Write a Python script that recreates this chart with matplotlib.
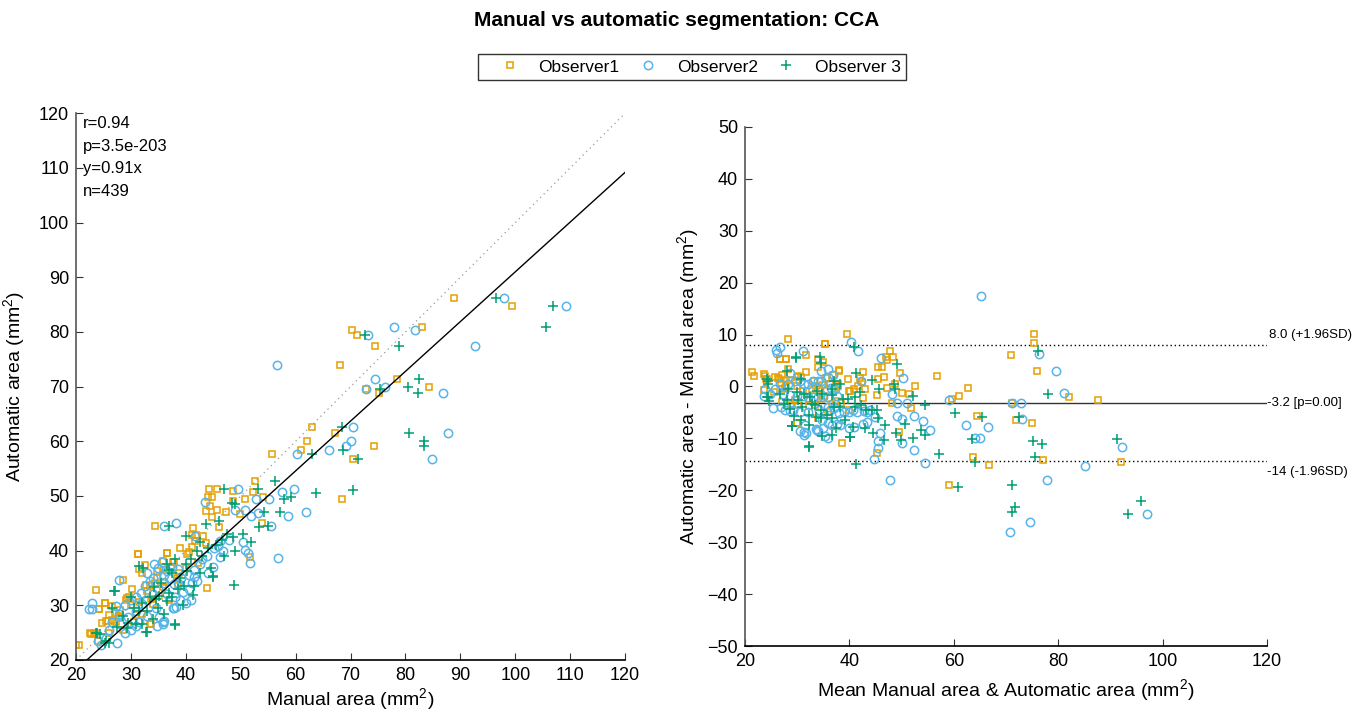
import numpy as np
import matplotlib
matplotlib.use("Agg")
import matplotlib.pyplot as plt

plt.rcParams['font.family'] = ['Liberation Sans', 'DejaVu Sans']
plt.rcParams['mathtext.fontset'] = 'custom'
plt.rcParams['mathtext.rm'] = 'Liberation Sans'

# ---------------- data (manual area, automatic area) ----------------
obs1_manual = [88.9, 99.4, 70.2, 71.2, 83.0, 74.5, 68.0, 78.4, 72.8, 75.2, 84.2, 62.9, 67.2, 62.0, 61.0,
               74.3, 70.4, 55.7, 52.6, 68.5, 44.3, 45.6, 48.5, 43.6, 44.7, 45.6, 47.3, 44.7, 48.6, 50.8,
               52.2, 54.0, 34.4, 41.3, 46.1, 49.8, 53.9, 51.7, 43.9, 31.2, 36.5, 23.6, 28.6, 25.3, 24.2,
               26.6, 33.5, 22.5, 23.4, 20.6, 20.0, 24.8, 25.5, 24.0,
               41.9, 43.2, 31.2, 32.6, 31.4, 32.1, 37.9, 37.3, 25.3, 24.1, 25.8, 26.6, 27.3, 27.9, 22.7,
               23.3, 33.6, 29.1, 29.7, 30.0, 33.0, 33.6, 35.2, 35.8, 40.0, 40.6, 41.2, 42.3, 40.3, 38.3,
               34.4, 36.1, 33.5, 27.3, 27.9, 30.9, 31.5, 34.1, 29.2, 36.5, 35.8, 37.6, 34.7, 41.1, 41.7,
               43.7, 44.1, 44.4, 38.5, 37.0, 32.0, 30.5, 28.5, 26.0, 36.0, 39.0, 38.8, 32.8, 34.8, 30.2,
               28.0, 26.0]
obs1_auto = [86.3, 84.8, 80.4, 79.5, 81.0, 77.4, 74.0, 71.4, 69.6, 68.8, 70.0, 62.6, 61.6, 60.1, 58.5,
             59.1, 56.8, 57.7, 52.7, 49.5, 51.2, 51.3, 51.0, 47.3, 49.8, 47.5, 47.1, 46.1, 49.0, 49.5,
             50.7, 49.8, 44.6, 44.1, 44.4, 46.7, 45.1, 38.8, 33.1, 39.4, 39.6, 32.8, 34.6, 30.5, 29.4,
             29.9, 26.5, 24.9, 24.9, 22.7, 22.7, 26.7, 27.2, 23.4,
             42.8, 42.7, 39.3, 37.3, 36.7, 35.9, 37.9, 37.1, 30.5, 29.3, 27.2, 27.3, 26.9, 27.8, 24.8,
             24.7, 26.5, 31.0, 31.6, 30.1, 32.6, 31.1, 31.7, 33.3, 36.8, 39.8, 40.7, 37.7, 39.4, 35.0,
             34.0, 34.3, 33.6, 28.6, 27.6, 28.2, 30.6, 30.3, 31.3, 39.5, 38.1, 38.0, 36.3, 42.8, 41.8,
             41.4, 49.8, 48.2, 33.5, 31.0, 28.5, 27.0, 25.5, 25.0, 36.5, 40.5, 36.0, 33.8, 35.0, 33.0,
             29.2, 28.2]

obs2_manual = [98.0, 109.3, 78.0, 81.7, 73.2, 92.7, 56.6, 74.5, 76.3, 72.8, 86.8, 87.8, 70.4, 70.0, 69.1,
               66.0, 60.3, 84.9, 56.8, 61.9, 59.7, 57.5, 58.6, 55.5, 49.5, 48.9, 50.7, 51.9, 53.1, 52.7,
               55.1, 43.4, 36.1, 38.2, 50.4, 50.7, 51.4, 51.7, 47.8, 46.8, 46.2, 44.9, 43.9, 41.6, 27.8,
               22.9, 22.4, 22.9, 27.3, 27.4, 24.6, 26.0, 28.9, 30.9, 34.8, 35.9, 37.7, 38.2, 31.8,
               34.2, 35.7, 35.0, 36.5, 37.9, 35.8, 36.1, 35.2, 41.2, 41.5, 40.6, 41.5, 45.2, 45.8, 46.3,
               37.9, 39.1, 38.5, 32.1, 30.9, 29.4, 27.9, 33.0, 34.0, 35.0, 36.0, 37.0, 38.0, 39.5, 40.5,
               42.0, 33.5, 32.5, 31.0, 30.0, 29.0, 36.5, 38.5, 34.5, 33.0, 31.5, 30.0, 28.0, 25.5, 24.0,
               26.5, 41.0, 40.0, 39.0, 43.0, 44.0, 42.5, 37.5, 36.0, 34.0, 33.0]
obs2_auto = [86.3, 84.8, 81.0, 80.4, 79.5, 77.4, 74.0, 71.4, 70.0, 69.6, 68.8, 61.6, 62.6, 60.1, 59.1,
             58.5, 57.7, 56.8, 38.7, 47.1, 51.3, 50.8, 46.3, 44.6, 51.2, 47.5, 47.5, 46.3, 46.9, 49.5,
             49.5, 48.9, 44.6, 45.1, 41.5, 40.2, 39.6, 37.8, 41.9, 40.0, 38.9, 37.0, 39.0, 42.7, 34.6,
             30.5, 29.4, 29.4, 29.9, 23.2, 22.8, 25.5, 24.9, 26.2, 26.2, 26.6, 29.6, 29.7, 32.3,
             37.5, 38.0, 36.8, 36.3, 29.6, 27.0, 27.2, 27.8, 34.0, 35.2, 35.5, 36.5, 40.5, 40.8, 41.7,
             33.9, 35.0, 36.7, 30.2, 29.0, 27.8, 28.4, 31.0, 32.0, 33.0, 34.0, 35.0, 31.5, 32.5, 33.0,
             34.5, 34.5, 33.5, 31.5, 31.0, 30.0, 32.0, 34.0, 29.5, 28.0, 27.0, 25.5, 26.5, 24.0, 23.5,
             27.0, 31.0, 30.5, 31.0, 38.5, 36.0, 37.5, 37.0, 35.5, 35.0, 36.0]

obs3_manual = [96.4, 106.8, 105.6, 72.6, 78.8, 82.4, 80.5, 82.3, 75.4, 80.6, 83.3, 83.3, 68.4, 68.6, 71.3,
               62.9, 70.4, 63.7, 56.2, 53.2, 46.9, 48.4, 57.9, 59.2, 54.3, 57.1, 53.3, 55.0, 48.8, 44.9,
               51.9, 48.9, 43.6, 37.0, 38.0, 32.9, 41.3, 27.1, 25.2, 23.9, 26.0,
               40.0, 31.5, 32.2, 27.0, 26.5, 30.0, 30.6, 31.5, 32.1, 32.8, 38.1, 36.6, 36.9, 37.5, 36.9,
               34.2, 34.5, 35.2, 39.7, 40.3, 45.0, 44.6, 25.5, 24.3, 23.6, 29.4, 30.9, 29.2, 33.0, 35.0,
               36.0, 37.5, 38.5, 39.0, 40.0, 41.0, 42.0, 43.0, 44.0, 45.5, 46.5, 47.5, 48.5, 42.5, 41.5,
               39.5, 34.0, 35.5, 33.5, 32.0, 28.5, 27.5, 38.0, 36.5, 42.5, 46.0, 49.0, 47.0, 50.5]
obs3_auto = [86.3, 84.8, 81.0, 79.5, 77.4, 71.4, 70.0, 68.8, 69.6, 61.6, 60.1, 59.1, 62.6, 58.5, 56.8,
             57.7, 51.1, 50.6, 52.7, 51.3, 51.3, 48.8, 49.5, 49.8, 47.1, 47.1, 44.4, 44.6, 33.8, 35.2,
             41.5, 40.0, 44.9, 44.6, 26.5, 25.2, 31.9, 32.6, 23.2, 24.9, 23.2,
             42.6, 37.2, 36.8, 32.6, 29.5, 31.5, 29.5, 28.9, 26.5, 25.2, 26.4, 30.8, 32.3, 35.9, 36.5,
             33.3, 31.1, 31.7, 33.6, 36.3, 35.3, 36.8, 23.5, 24.7, 25.0, 26.8, 26.5, 25.8, 29.0, 29.5,
             28.5, 31.5, 33.0, 35.0, 37.5, 38.5, 40.0, 39.0, 40.5, 41.0, 42.0, 43.0, 42.5, 36.0, 33.5,
             30.0, 27.5, 34.0, 31.5, 30.5, 28.0, 26.0, 38.5, 37.5, 41.5, 45.5, 48.5, 39.0, 43.0]

series_names = ["Observer1", "Observer2", "Observer 3"]
stats_text = ["r=0.94", "p=3.5e-203", "y=0.91x", "n=439"]
slope = 0.91
mean_diff = -3.2
loa_upper = 8.0
loa_lower = -14.4
loa_labels = ["8.0 (+1.96SD)", "-3.2 [p=0.00]", "-14 (-1.96SD)"]

# ---------------- styling ----------------
colors = ['#E69F00', '#56B4E9', '#009E73']
markers = ['s', 'o', '+']
msizes = [5.0, 6.0, 7.0]

fig = plt.figure(figsize=(13.53, 7.17), dpi=100)
ax1 = fig.add_axes([0.0562, 0.0795, 0.4058, 0.7625])
ax2 = fig.add_axes([0.5506, 0.099, 0.3858, 0.724])

data = [(obs1_manual, obs1_auto), (obs2_manual, obs2_auto), (obs3_manual, obs3_auto)]

# left panel: identity and fit lines
xs = np.array([20, 120])
ax1.plot(xs, xs, linestyle=(0, (1, 3)), color='#999999', lw=0.9, zorder=1)
ax1.plot(xs, slope * xs, color='black', lw=1.0, zorder=3)

handles = []
for (m, a), c, mk, ms, name in zip(data, colors, markers, msizes, series_names):
    m = np.asarray(m); a = np.asarray(a)
    kw = dict(linestyle='none', marker=mk, markersize=ms, markeredgewidth=1.1)
    if mk == '+':
        h, = ax1.plot(m, a, color=c, **kw, label=name)
        ax2.plot((m + a) / 2, a - m, color=c, **kw)
    else:
        h, = ax1.plot(m, a, markerfacecolor='none', markeredgecolor=c, color=c, **kw, label=name)
        ax2.plot((m + a) / 2, a - m, markerfacecolor='none', markeredgecolor=c, color=c, **kw)
    handles.append(h)

ax1.set_xlim(20, 120)
ax1.set_ylim(20, 120)
ax1.set_xticks(np.arange(20, 121, 10))
ax1.set_yticks(np.arange(20, 121, 10))
ax1.set_xlabel("Manual area (mm$^2$)", fontsize=14, labelpad=2)
ax1.set_ylabel("Automatic area (mm$^2$)", fontsize=14, labelpad=8)
for i, t in enumerate(stats_text):
    ax1.text(0.012, 0.995 - i * 0.0412, t, transform=ax1.transAxes, fontsize=12, va='top', ha='left')

# right panel
ax2.axhline(mean_diff, color='#333333', lw=1.0, zorder=1)
ax2.axhline(loa_upper, color='black', lw=1.0, linestyle=(0, (1, 2)), zorder=1)
ax2.axhline(loa_lower, color='black', lw=1.0, linestyle=(0, (1, 2)), zorder=1)
ax2.set_xlim(20, 120)
ax2.set_ylim(-50, 50)
ax2.set_xticks(np.arange(20, 121, 20))
ax2.set_yticks(np.arange(-50, 51, 10))
ax2.set_xlabel("Mean Manual area & Automatic area (mm$^2$)", fontsize=14, labelpad=5)
ax2.set_ylabel("Automatic area - Manual area (mm$^2$)", fontsize=14, labelpad=4)
ax2.text(120.3, loa_upper + 0.8, loa_labels[0], fontsize=9.5, va='bottom', ha='left', clip_on=False)
ax2.text(120.0, mean_diff, loa_labels[1], fontsize=9.5, va='center', ha='left', clip_on=False)
ax2.text(120.0, loa_lower - 1.0, loa_labels[2], fontsize=9.5, va='top', ha='left', clip_on=False)

for ax in (ax1, ax2):
    ax.spines['top'].set_visible(False)
    ax.spines['right'].set_visible(False)
    ax.spines['left'].set_color('#555555')
    ax.spines['bottom'].set_color('black')
    ax.spines['left'].set_linewidth(1.2)
    ax.spines['bottom'].set_linewidth(1.2)
    ax.tick_params(direction='in', length=5, labelsize=13, pad=5, color='#333333')

fig.text(0.5, 0.972, "Manual vs automatic segmentation: CCA", ha='center', va='center',
         fontsize=15, fontweight='bold')

leg = fig.legend(handles=handles, labels=series_names, loc='center', bbox_to_anchor=(0.5114, 0.9066),
                 ncol=3, frameon=True, fancybox=False, edgecolor='black', fontsize=12.5,
                 handletextpad=0.1, columnspacing=0.1, handlelength=3.1, borderpad=0.3,
                 borderaxespad=0)
leg.get_frame().set_linewidth(1.0)

fig.savefig("out.png", dpi=100)
